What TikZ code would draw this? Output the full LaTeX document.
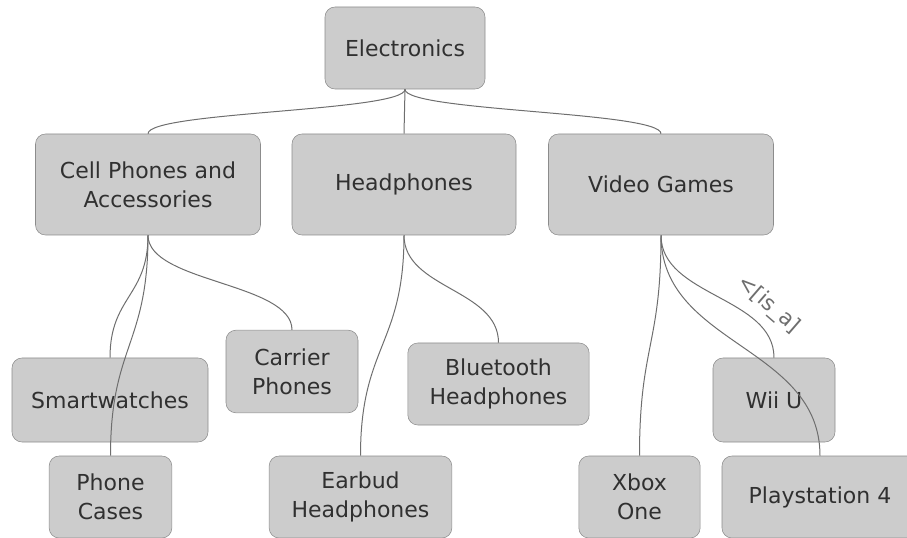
\documentclass[tikz,border=0pt]{standalone}
\usepackage{fontspec}
\setmainfont{DejaVu Sans}
\usetikzlibrary{positioning, calc}

\definecolor{boxfill}{HTML}{CCCCCC}
\definecolor{boxline}{HTML}{8C8C8C}
\definecolor{linkline}{HTML}{6E6E6E}
\definecolor{boxtext}{HTML}{303030}

\begin{document}
\begin{tikzpicture}[x=0.75pt, y=-0.75pt,
		cat/.style={draw=boxline, fill=boxfill, rounded corners=7.5pt, text=boxtext, align=center,
			inner sep=0pt, font=\fontsize{16.5}{21.5}\selectfont},
		link/.style={draw=linkline, line width=0.75pt},
		tag/.style={text=linkline, font=\fontsize{16}{20}\selectfont, inner sep=2pt}]
		\useasboundingbox (0,0) rectangle (907,538);
		% top level
		\node[cat, minimum width=120pt, minimum height=61.5pt] (electronics) at (405,48) {Electronics};
		% categories
		\node[cat, minimum width=168.75pt, minimum height=75.75pt] (cellphones) at (148,184.5) {Cell Phones and\\Accessories};
		\node[cat, minimum width=168pt, minimum height=75.75pt] (headphones) at (404,184.5) {Headphones};
		\node[cat, minimum width=168.75pt, minimum height=75.75pt] (videogames) at (661,184.5) {Video Games};
		% leaves
		\node[cat, minimum width=147pt, minimum height=63pt] (smartwatches) at (110,400) {Smartwatches};
		\node[cat, minimum width=99pt, minimum height=62pt] (carrier) at (292,371.5) {Carrier\\Phones};
		\node[cat, minimum width=136pt, minimum height=61.5pt] (bluetooth) at (498.5,384) {Bluetooth\\Headphones};
		\node[cat, minimum width=92pt, minimum height=61.5pt] (cases) at (110.5,497) {Phone\\Cases};
		\node[cat, minimum width=137pt, minimum height=61.5pt] (earbud) at (360.5,497) {Earbud\\Headphones};
		\node[cat, minimum width=91pt, minimum height=61.5pt] (xbox) at (639.5,497) {Xbox\\One};
		\node[cat, minimum width=91.5pt, minimum height=63pt] (wiiu) at (774,400) {Wii U};
		\node[cat, minimum width=147pt, minimum height=61.5pt] (ps4) at (820,497) {Playstation 4};
		% links, drawn over the boxes
		\foreach \from/\to in {electronics/cellphones, electronics/headphones, electronics/videogames,
				cellphones/smartwatches, cellphones/cases, cellphones/carrier,
				headphones/earbud, headphones/bluetooth, videogames/xbox, videogames/ps4}
			\draw[link] (\from.south) .. controls ($(\from.south)!0.5!(\from.south |- \to.north)$)
				and ($(\to.north)!0.5!(\to.north |- \from.south)$) .. (\to.north);
		\draw[link] (videogames.south) .. controls ($(videogames.south)!0.5!(videogames.south |- wiiu.north)$)
			and ($(wiiu.north)!0.5!(wiiu.north |- videogames.south)$) .. node[tag, pos=0.74, sloped, above=5pt] {<[is\_a]} (wiiu.north);
	\end{tikzpicture}
\end{document}
